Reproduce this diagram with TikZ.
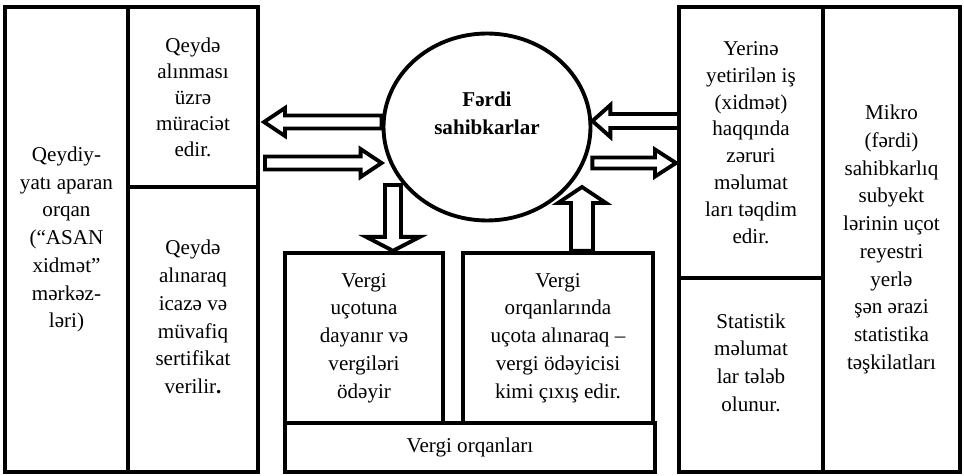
\documentclass[tikz,border=0pt]{standalone}
\usepackage{fontspec}
\setmainfont{Liberation Serif}
\usetikzlibrary{calc,shapes.geometric}

\tikzset{
  blk shaft/.store in=\blkshaft, blk head/.store in=\blkhead, blk len/.store in=\blklen,
  blk shaft=0.13cm, blk head=0.28cm, blk len=0.42cm,
  box/.style={draw, rectangle, line width=2.5pt, align=center, inner sep=0pt,
    font=\fontsize{12}{15.8}\selectfont},
  hollow/.style={draw, line width=2.2pt, to path={
    ($(\tikztostart)!\blkshaft!90:(\tikztotarget)$)
    -- ($(\tikztotarget)!\blklen!(\tikztostart)!\blkshaft!-90:(\tikztostart)$)
    -- ($(\tikztotarget)!\blklen!(\tikztostart)!\blkhead!-90:(\tikztostart)$)
    -- (\tikztotarget)
    -- ($(\tikztotarget)!\blklen!(\tikztostart)!\blkhead!90:(\tikztostart)$)
    -- ($(\tikztotarget)!\blklen!(\tikztostart)!\blkshaft!90:(\tikztostart)$)
    -- ($(\tikztostart)!\blkshaft!-90:(\tikztotarget)$)
    -- cycle}}
}

\begin{document}
\begin{tikzpicture}[x=0.02cm, y=-0.02cm]
\useasboundingbox (0,0) rectangle (964,476);

\draw (66.5,239.5) node[box, minimum width=2.46cm, minimum height=9.3cm] (reg)
  {Qeydiy-\\yatı aparan\\orqan\\(“ASAN\\xidmət”\\mərkəz-\\ləri)} ;
\draw (193,97) node[box, minimum width=2.6cm, minimum height=3.6cm,
  font=\fontsize{12}{14.8}\selectfont] (qmur)
  {Qeydə\\alınması\\üzrə\\müraciət\\edir.} ;
\draw (193,329.5) node[box, minimum width=2.6cm, minimum height=5.7cm, text depth=0.5cm] (qicz)
  {Qeydə\\alınaraq\\icazə və\\müvafiq\\sertifikat\\verilir\textbf{.}} ;

\draw (487,127) node[ellipse, draw, line width=2.2pt, align=center, inner sep=0pt,
  minimum width=4.14cm, minimum height=3.74cm, text depth=0.55cm,
  font=\fontsize{12}{15.8}\selectfont\bfseries] (fs) {Fərdi\\sahibkarlar} ;

\draw (364,338) node[box, minimum width=3.16cm, minimum height=3.4cm] (vu1)
  {Vergi\\uçotuna\\dayanır və\\vergiləri\\ödəyir} ;
\draw (558,338) node[box, minimum width=3.8cm, minimum height=3.4cm] (vu2)
  {Vergi\\orqanlarında\\uçota alınaraq –\\vergi ödəyicisi\\kimi çıxış edir.} ;
\draw (470,447.5) node[box, minimum width=7.4cm, minimum height=0.98cm] (vo)
  {Vergi orqanları} ;

\draw (751,142.5) node[box, minimum width=2.88cm, minimum height=5.42cm,
  font=\fontsize{12}{15.3}\selectfont] (ymel)
  {Yerinə\\yetirilən iş\\(xidmət)\\haqqında\\zəruri\\məlumat\\ları təqdim\\edir.} ;
\draw (751,375) node[box, minimum width=2.88cm, minimum height=3.88cm, text depth=0.5cm] (stat)
  {Statistik\\məlumat\\lar tələb\\olunur.} ;
\draw (891.5,239.5) node[box, minimum width=2.74cm, minimum height=9.3cm] (mikro)
  {Mikro\\(fərdi)\\sahibkarlıq\\subyekt\\lərinin uçot\\reyestri\\yerlə\\şən ərazi\\statistika\\təşkilatları} ;

\coordinate (la) at (264,122) ;
\coordinate (lb) at (265,163) ;
\coordinate (ra) at (679,121) ;
\coordinate (rb) at (676,163) ;
\coordinate (dn) at (393,185) ;
\coordinate (up) at (582,187) ;

\draw[hollow] (fs.west |- la) to (la) ;
\draw[hollow] (lb) to (fs.west |- lb) ;
\draw[hollow, blk shaft=0.14cm, blk head=0.32cm, blk len=0.36cm] (ra) to (fs.east |- ra) ;
\draw[hollow, blk shaft=0.11cm, blk head=0.27cm] (fs.east |- rb) to (rb) ;
\draw[hollow, blk shaft=0.16cm, blk head=0.54cm, blk len=0.28cm] (dn) to (dn |- vu1.north) ;
\draw[hollow, blk shaft=0.22cm, blk head=0.48cm, blk len=0.32cm] (up |- vu2.north) to (up) ;

\end{tikzpicture}
\end{document}
